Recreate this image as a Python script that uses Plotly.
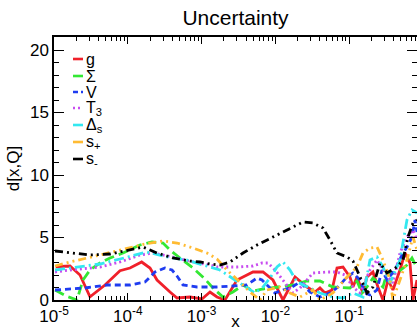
import numpy as np
import plotly.graph_objects as go

# ---- data (log10 of x, and d[x,Q]) ----
g_lx = [-4.977, -4.783, -4.648, -4.512, -4.309, -4.106, -3.970, -3.812, -3.699, -3.604, -3.428, -3.333,
        -3.157, -2.995, -2.886, -2.791, -2.683, -2.520, -2.304, -2.168, -2.033, -1.897, -1.734, -1.572,
        -1.463, -1.396, -1.328, -1.233, -1.165, -1.084, -0.989, -0.949, -0.894, -0.813, -0.759, -0.678,
        -0.610, -0.542, -0.474, -0.407, -0.312, -0.244, -0.176, -0.136, -0.081]
g_y = [2.66, 2.72, 2.0, 0.26, 1.2, 2.34, 2.56, 3.04, 2.56, 1.6, 0.64, 0.16,
       0.24, 0.08, 0.64, 0.24, 0.0, 1.6, 2.24, 2.24, 1.6, 0.0, 1.84, 1.04,
       0.64, 0.96, 0.56, 0.8, 2.56, 2.64, 1.84, 1.04, 1.84, 0.56, 1.84, 2.24,
       1.04, 0.0, 1.6, 0.8, 2.4, 3.76, 2.96, 0.0, 1.6]

sigma_lx = [-4.986, -4.837, -4.688, -4.607, -4.512, -4.377, -4.241, -4.065, -3.835, -3.672, -3.523, -3.428,
            -3.293, -3.117, -2.954, -2.846, -2.710, -2.575, -2.439, -2.304, -2.168, -1.938, -1.762, -1.572,
            -1.396, -1.220, -0.989, -0.894, -0.827, -0.759, -0.678, -0.542, -0.488, -0.352, -0.217, -0.149, -0.081]
sigma_y = [0.8, 0.32, 0.0, 1.6, 2.4, 2.96, 3.36, 3.76, 4.4, 4.64, 4.56, 4.0,
           3.36, 2.56, 1.68, 0.96, 0.24, 0.64, 1.2, 0.72, 0.88, 1.04, 1.2, 1.52,
           1.52, 1.04, 0.96, 1.52, 0.56, 1.04, 1.76, 1.04, 2.16, 2.16, 2.8, 3.36, 2.56]

v_lx = [-4.986, -4.783, -4.580, -4.282, -3.970, -3.767, -3.631, -3.496, -3.401, -3.333, -3.252, -3.062,
        -2.791, -2.575, -2.385, -2.249, -2.182, -2.114, -2.005, -1.897, -1.775, -1.667, -1.531, -1.396,
        -1.260, -1.152, -1.030, -0.949, -0.854, -0.786, -0.718, -0.623, -0.556, -0.488, -0.379, -0.285,
        -0.217, -0.149, -0.108, -0.081]
v_y = [0.8, 0.88, 0.96, 1.2, 1.2, 1.44, 2.24, 2.56, 2.4, 1.92, 1.2, 1.04,
       1.04, 1.12, 1.2, 1.76, 1.6, 1.2, 0.56, 0.8, 1.04, 1.44, 0.64, 0.24,
       0.56, 1.04, 1.84, 2.16, 1.6, 0.56, 0.4, 0.8, 2.4, 1.6, 2.4, 3.6,
       4.24, 5.04, 6.4, 5.44]

t3_lx = [-4.986, -4.783, -4.377, -4.106, -3.835, -3.659, -3.388, -3.117, -2.886, -2.791, -2.520, -2.304,
         -2.182, -2.100, -2.005, -1.897, -1.762, -1.667, -1.491, -1.301, -1.165, -1.057, -0.949, -0.854,
         -0.718, -0.623, -0.515, -0.407, -0.312, -0.217, -0.136, -0.081]
t3_y = [2.24, 2.4, 2.64, 3.04, 3.6, 3.76, 3.44, 3.04, 2.8, 2.64, 2.64, 2.72,
        2.96, 2.96, 2.4, 1.6, 0.56, 0.96, 2.16, 2.24, 2.24, 2.0, 1.04, 0.56,
        2.4, 3.2, 2.16, 1.36, 3.76, 5.04, 5.6, 4.8]

ds_lx = [-4.986, -4.783, -4.377, -4.106, -3.740, -3.469, -3.198, -2.981, -2.751, -2.588, -2.480, -2.344,
         -2.276, -2.168, -2.073, -1.978, -1.897, -1.802, -1.707, -1.531, -1.396, -1.220, -1.084, -0.949,
         -0.813, -0.718, -0.623, -0.542, -0.447, -0.312, -0.217, -0.149, -0.081]
ds_y = [2.4, 2.56, 2.88, 3.28, 3.84, 3.44, 3.2, 2.8, 2.4, 1.76, 1.36, 0.8,
        0.56, 1.04, 1.76, 2.64, 3.04, 2.4, 1.44, 0.96, 0.56, 0.24, 0.16, 0.56,
        0.24, 3.2, 3.44, 2.64, 1.36, 3.2, 6.4, 7.2, 6.96]

sp_lx = [-4.986, -4.783, -4.377, -3.970, -3.767, -3.523, -3.333, -3.117, -2.927, -2.791, -2.656, -2.480,
         -2.344, -2.209, -2.114, -1.938, -1.802, -1.667, -1.491, -1.396, -1.220, -1.030, -0.894, -0.813,
         -0.718, -0.623, -0.542, -0.447, -0.407, -0.312, -0.217, -0.136, -0.081]
sp_y = [2.72, 3.04, 3.6, 4.16, 4.48, 4.72, 4.56, 4.16, 3.76, 3.28, 2.4, 1.44,
        0.64, 0.0, 0.8, 1.04, 0.56, 0.24, 0.8, 0.0, 0.56, 1.84, 2.64, 3.76,
        4.16, 4.24, 3.2, 1.6, 0.0, 1.6, 3.2, 5.04, 4.0]

sm_lx = [-4.986, -4.743, -4.512, -4.241, -3.970, -3.794, -3.604, -3.388, -3.157, -3.022, -2.886, -2.751,
         -2.615, -2.439, -2.249, -2.114, -1.938, -1.762, -1.626, -1.491, -1.355, -1.260, -1.165, -1.030,
         -0.949, -0.894, -0.813, -0.759, -0.678, -0.583, -0.488, -0.352, -0.271, -0.203, -0.136, -0.081]
sm_y = [3.92, 3.76, 3.6, 3.68, 4.0, 4.24, 3.76, 3.36, 3.12, 3.04, 2.88, 2.8,
        3.04, 3.76, 4.4, 4.8, 5.36, 5.84, 6.24, 6.16, 5.76, 4.8, 3.76, 3.44,
        3.12, 2.4, 1.36, 0.56, 1.04, 2.96, 2.16, 2.64, 3.2, 5.04, 6.16, 6.4]

names = ["g", "Σ", "V", "T<sub>3</sub>", "Δ<sub>s</sub>", "s<sub>+</sub>", "s<sub>-</sub>"]
series_lx = [g_lx, sigma_lx, v_lx, t3_lx, ds_lx, sp_lx, sm_lx]
series_y = [g_y, sigma_y, v_y, t3_y, ds_y, sp_y, sm_y]
colors = ["#f0202a", "#33e833", "#1f3cf0", "#c84cf0", "#33e8f0", "#ffbb33", "#000000"]
dashes = ["solid", "10px,5px", "6px,4px", "2px,3px", "10px,4px,2px,4px",
          "8px,4px,2px,4px,2px,4px", "8px,4px,2px,4px,2px,4px"]
legend_dashes = ["solid", "solid", "5px,3px", "2px,3px", "solid", "solid", "solid"]

xtick_vals = [1e-5, 1e-4, 1e-3, 1e-2, 1e-1]
xtick_text = ["10<sup>-5</sup>", "10<sup>-4</sup>", "10<sup>-3</sup>", "10<sup>-2</sup>", "10<sup>-1</sup>"]

FONT = "Liberation Sans, Arial, Helvetica, sans-serif"

fig = go.Figure()
for nm, lx, yy, c, d in zip(names, series_lx, series_y, colors, dashes):
    fig.add_trace(go.Scatter(x=10 ** np.array(lx), y=yy, mode="lines", name=nm,
                             line=dict(color=c, width=2.8, dash=d), showlegend=False))

# custom compact legend (short sample lines like the original)
row_y = [59, 76, 92, 108, 125, 142, 159]  # pixel rows
plot_top, plot_bot, plot_left, plot_w = 37, 300, 54, 363
for nm, c, d, py in zip(names, colors, legend_dashes, row_y):
    yp = (plot_bot - py) / (plot_bot - plot_top)
    fig.add_shape(type="line", xref="paper", yref="paper",
                  x0=(73 - plot_left) / plot_w, x1=(83 - plot_left) / plot_w, y0=yp, y1=yp,
                  line=dict(color=c, width=2.6, dash=d))
    fig.add_annotation(xref="paper", yref="paper", x=(84 - plot_left) / plot_w, y=yp,
                       xanchor="left", yanchor="middle", text=nm, showarrow=False,
                       font=dict(size=16, color="black", family=FONT))

axis_common = dict(showline=True, linecolor="black", linewidth=1.5, mirror="allticks",
                   ticks="inside", tickcolor="black", showgrid=False, zeroline=False,
                   automargin=False,
                   tickfont=dict(size=17, color="black", family=FONT))

fig.update_xaxes(type="log", range=[-5, -0.081], tickmode="array", tickvals=xtick_vals,
                 ticktext=xtick_text, ticklen=7, tickwidth=1.2,
                 minor=dict(ticks="inside", ticklen=4, tickcolor="black", dtick="D1", showgrid=False),
                 title=dict(text="x", font=dict(size=17, color="black", family=FONT), standoff=2),
                 **axis_common)
fig.update_yaxes(range=[0, 21.04], tickmode="linear", tick0=0, dtick=5, ticklen=10, tickwidth=1.2,
                 minor=dict(ticks="inside", ticklen=5, tickcolor="black", dtick=1, showgrid=False),
                 title=dict(text="d[x,Q]", font=dict(size=17, color="black", family=FONT), standoff=6),
                 **axis_common)

fig.update_layout(
    width=417, height=331,
    margin=dict(l=54, r=0, t=37, b=31, autoexpand=False),
    paper_bgcolor="white", plot_bgcolor="white",
    title=dict(text="Uncertainty", x=(54 + 363 / 2) / 417, xanchor="center",
               y=1 - 18 / 331, yanchor="middle", yref="container",
               font=dict(size=21, color="black", family=FONT)),
    showlegend=False,
)

fig.write_html("out.html", config={"displayModeBar": False},
               post_script="document.body.style.margin='0';document.body.style.overflow='hidden';")
